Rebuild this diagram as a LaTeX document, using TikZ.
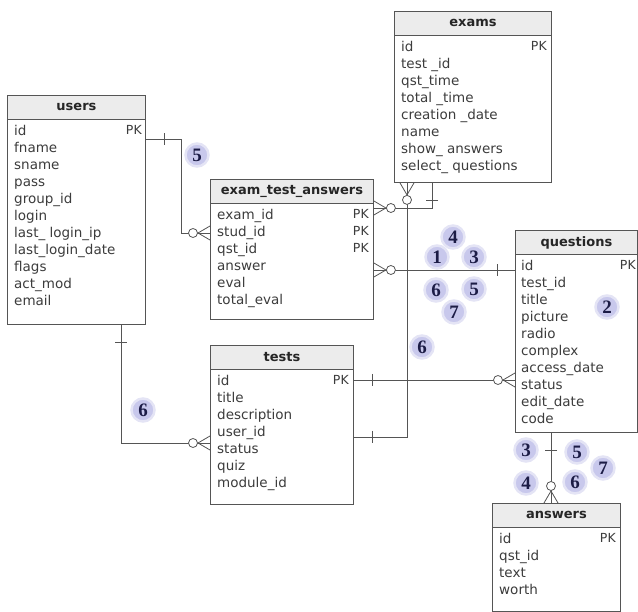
\documentclass[tikz,border=0pt]{standalone}
\usepackage{fontspec}
\usetikzlibrary{calc}
\newfontfamily\erfont{DejaVu Sans}
\newfontfamily\erbadgefont{Liberation Serif}
\definecolor{ErLine}{RGB}{85,85,85}
\definecolor{ErText}{RGB}{60,60,60}
\definecolor{ErHead}{RGB}{236,236,236}
\definecolor{ErBadge}{RGB}{200,200,236}
\definecolor{ErNavy}{RGB}{28,28,70}
\tikzset{
  er/table/.style={
    draw=ErLine,
    line width=0.9pt,
    fill=white,
    inner sep=0pt,
    anchor=north west
  },
  er/head/.style={
    draw=ErLine,
    line width=0.9pt,
    fill=ErHead,
    inner sep=0pt,
    anchor=north west,
    minimum height=24pt,
    text=black!85,
    font=\erfont\bfseries\fontsize{13}{15}\selectfont
  },
  er/fields/.style={inner sep=0pt, anchor=north west, align=left, text=ErText, font=\erfont\fontsize{13.5}{17}\selectfont},
  er/pk/.style={inner sep=0pt, anchor=north east, align=right, text=ErText, font=\erfont\fontsize{12.5}{17}\selectfont},
  er/link/.style={draw=ErLine, line width=0.8pt},
  er/badge/.style={circle, fill=ErBadge, draw=ErBadge!50, line width=2.5pt, minimum size=23pt, inner sep=0pt, text=ErNavy, font=\erbadgefont\bfseries\fontsize{19}{19}\selectfont},
  erone/.pic={\draw[er/link] (18,-6) -- (18,6);},
  ermany/.pic={
    \draw[er/link] (0,7) -- (12,0) -- (0,-7);
    \draw[er/link, fill=white] (17,0) circle (4.5pt);
  }
}

\begin{document}
\begin{tikzpicture}[x=1pt,y=-1pt]
  \useasboundingbox (0,0) rectangle (638,612);

  % tables
  \node[er/table,minimum width=138pt,minimum height=229pt] (users) at (7,95) {};
  \node[er/head,minimum width=138pt] (usersH) at (users.north west) {users};
  \node[er/fields] (usersF) at ($(users.north west)+(7,30)$) {id\\fname\\sname\\pass\\group\_id\\login\\last\_ login\_ip\\last\_login\_date\\flags\\act\_mod\\email};
  \node[er/pk] (usersK) at ($(users.north east)+(-4,30.5)$) {PK};

  \node[er/table,minimum width=163pt,minimum height=140pt] (eta) at (210,179) {};
  \node[er/head,minimum width=163pt] (etaH) at (eta.north west) {exam\_test\_answers};
  \node[er/fields] (etaF) at ($(eta.north west)+(7,30)$) {exam\_id\\stud\_id\\qst\_id\\answer\\eval\\total\_eval};
  \node[er/pk] (etaK) at ($(eta.north east)+(-5,30.5)$) {PK\\PK\\PK};

  \node[er/table,minimum width=157pt,minimum height=171pt] (exams) at (394,11) {};
  \node[er/head,minimum width=157pt] (examsH) at (exams.north west) {exams};
  \node[er/fields] (examsF) at ($(exams.north west)+(7,30)$) {id\\test \_id\\qst\_time\\total \_time\\creation \_date\\name\\show\_ answers\\select\_ questions};
  \node[er/pk] (examsK) at ($(exams.north east)+(-5,30.5)$) {PK};

  \node[er/table,minimum width=122pt,minimum height=202pt] (q) at (515,230) {};
  \node[er/head,minimum width=122pt] (qH) at (q.north west) {questions};
  \node[er/fields] (qF) at ($(q.north west)+(6,30)$) {id\\test\_id\\title\\picture\\radio\\complex\\access\_date\\status\\edit\_date\\code};
  \node[er/pk] (qK) at ($(q.north east)+(-2,30.5)$) {PK};

  \node[er/table,minimum width=143pt,minimum height=159pt] (tests) at (210,345) {};
  \node[er/head,minimum width=143pt] (testsH) at (tests.north west) {tests};
  \node[er/fields] (testsF) at ($(tests.north west)+(7,30)$) {id\\title\\description\\user\_id\\status\\quiz\\module\_id};
  \node[er/pk] (testsK) at ($(tests.north east)+(-5,30.5)$) {PK};

  \node[er/table,minimum width=128pt,minimum height=108pt] (answers) at (492,503) {};
  \node[er/head,minimum width=128pt] (answersH) at (answers.north west) {answers};
  \node[er/fields] (answersF) at ($(answers.north west)+(7,30)$) {id\\qst\_id\\text\\worth};
  \node[er/pk] (answersK) at ($(answers.north east)+(-5,30.5)$) {PK};

  % relations
  \draw[er/link] ($(users.north east)+(0,44.5)$) coordinate (u1) -- ++(35,0) |- ($(eta.north west)+(0,54)$) coordinate (e2);
  \draw[er/link] ($(exams.south west)+(38,0)$) coordinate (x1) |- ($(eta.north east)+(0,29)$) coordinate (e1);
  \draw[er/link] ($(eta.north east)+(0,91)$) coordinate (e4) -- ($(q.north west)+(0,40)$) coordinate (q1);
  \draw[er/link] ($(exams.south west)+(13,0)$) coordinate (x2) |- ($(tests.north east)+(0,92)$) coordinate (t4);
  \draw[er/link] ($(tests.north east)+(0,35)$) coordinate (t1) -- ($(q.north west)+(0,150)$) coordinate (q7);
  \draw[er/link] ($(users.south east)+(-25,0)$) coordinate (u2) |- ($(tests.north west)+(0,98)$) coordinate (t5);
  \draw[er/link] ($(q.south west)+(36,0)$) coordinate (q2) -- ($(answers.north west)+(59,0)$) coordinate (a1);

  \pic at (u1) {erone};
  \pic[rotate=180] at (e2) {ermany};
  \pic[rotate=-90] at (x1) {erone};
  \pic at (e1) {ermany};
  \pic at (e4) {ermany};
  \pic[rotate=180] at (q1) {erone};
  \pic[rotate=-90] at (x2) {ermany};
  \pic at (t4) {erone};
  \pic at (t1) {erone};
  \pic[rotate=180] at (q7) {ermany};
  \pic[rotate=-90] at (u2) {erone};
  \pic[rotate=180] at (t5) {ermany};
  \pic[rotate=-90] at (q2) {erone};
  \pic[rotate=90] at (a1) {ermany};

  % badges
  \node[er/badge] (b1) at (197,155) {5};
  \node[er/badge] (b2) at (453,237) {4};
  \node[er/badge] (b3) at (437,257) {1};
  \node[er/badge] (b4) at (474,257) {3};
  \node[er/badge] (b5) at (436,290) {6};
  \node[er/badge] (b6) at (474,289) {5};
  \node[er/badge] (b7) at (454,312) {7};
  \node[er/badge] (b8) at (607,307) {2};
  \node[er/badge] (b9) at (422,347) {6};
  \node[er/badge] (b10) at (143,410) {6};
  \node[er/badge] (b11) at (526,450) {3};
  \node[er/badge] (b12) at (577,452) {5};
  \node[er/badge] (b13) at (603,468) {7};
  \node[er/badge] (b14) at (526,483) {4};
  \node[er/badge] (b15) at (575,482) {6};
\end{tikzpicture}
\end{document}
